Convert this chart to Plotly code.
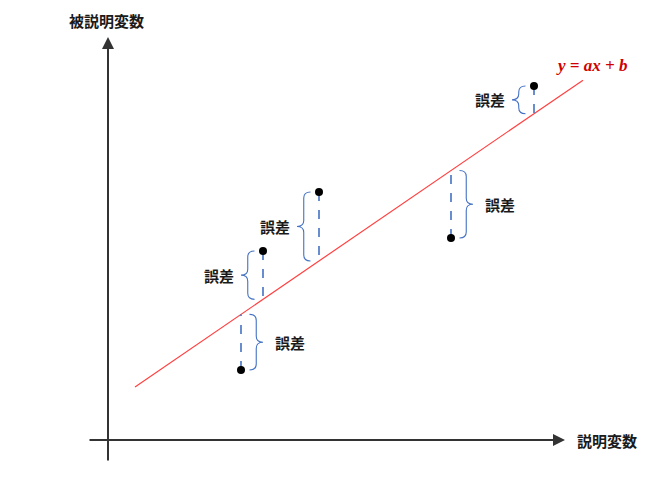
import plotly.graph_objects as go

# ---- data (diagram units) ----
point_x = [2.66, 3.10, 4.22, 6.86, 8.52]
point_y = [1.40, 3.78, 4.96, 4.04, 7.08]
brace_side = ["right", "left", "left", "right", "left"]
error_label = "誤差"
slope_a = 0.685
intercept_b = 0.69
line_x = [0.54, 9.50]
x_axis_title = "説明変数"
y_axis_title = "被説明変数"
equation_text = "y = ax + b"

fig = go.Figure()

# regression line
line_y = [slope_a * x + intercept_b for x in line_x]
fig.add_trace(go.Scatter(x=line_x, y=line_y, mode="lines",
                         line=dict(color="#FF4040", width=1.2),
                         hoverinfo="skip", showlegend=False))

shapes = []
annotations = []
OFF = 0.17
W = 0.27
R = 0.12
for px, py, side in zip(point_x, point_y, brace_side):
    ly = slope_a * px + intercept_b
    # dashed residual
    fig.add_trace(go.Scatter(x=[px, px], y=[py, ly], mode="lines",
                             line=dict(color="#4472C4", width=1.6, dash="dash"),
                             hoverinfo="skip", showlegend=False))
    top, bot = max(py, ly), min(py, ly)
    mid = (top + bot) / 2
    s = 1 if side == "right" else -1
    x0 = px + s * OFF
    xm = x0 + s * W / 2
    xt = x0 + s * W
    path = (f"M {x0},{top} Q {xm},{top} {xm},{top - R} "
            f"L {xm},{mid + R} Q {xm},{mid} {xt},{mid} "
            f"Q {xm},{mid} {xm},{mid - R} "
            f"L {xm},{bot + R} Q {xm},{bot} {x0},{bot}")
    shapes.append(dict(type="path", path=path, xref="x", yref="y",
                       line=dict(color="#4472C4", width=1.1)))
    gap = 0.2 if side == "right" else 0.1
    annotations.append(dict(x=xt + s * gap, y=mid, xref="x", yref="y",
                            text=error_label, showarrow=False,
                            xanchor="left" if side == "right" else "right",
                            yanchor="middle",
                            font=dict(family="Noto Sans CJK JP", size=15,
                                      color="#1a1a1a", weight=700)))

# points
fig.add_trace(go.Scatter(x=point_x, y=point_y, mode="markers",
                         marker=dict(color="black", size=8),
                         hoverinfo="skip", showlegend=False))

# axes with arrows
annotations.append(dict(x=0, y=8.06, ax=0, ay=-0.44, xref="x", yref="y",
                        axref="x", ayref="y", text="", showarrow=True,
                        arrowhead=2, arrowsize=1.2, arrowwidth=2,
                        arrowcolor="#333333"))
annotations.append(dict(x=9.14, y=0, ax=-0.40, ay=0, xref="x", yref="y",
                        axref="x", ayref="y", text="", showarrow=True,
                        arrowhead=2, arrowsize=1.2, arrowwidth=2,
                        arrowcolor="#333333"))
annotations.append(dict(x=-0.04, y=8.40, xref="x", yref="y",
                        text=y_axis_title, showarrow=False,
                        xanchor="center", yanchor="middle",
                        font=dict(family="Noto Sans CJK JP", size=15,
                                  color="#1a1a1a", weight=700)))
annotations.append(dict(x=9.34, y=0, xref="x", yref="y",
                        text=x_axis_title, showarrow=False,
                        xanchor="left", yanchor="middle",
                        font=dict(family="Noto Sans CJK JP", size=15,
                                  color="#1a1a1a", weight=700)))
annotations.append(dict(x=9.66, y=7.50, xref="x", yref="y",
                        text=f"<b><i>{equation_text}</i></b>", showarrow=False,
                        xanchor="center", yanchor="middle",
                        font=dict(family="Liberation Serif", size=17,
                                  color="#D00000")))

fig.update_layout(
    width=650, height=477,
    margin=dict(l=0, r=0, t=0, b=0),
    paper_bgcolor="white", plot_bgcolor="white",
    xaxis=dict(range=[-2.16, 10.84], visible=False, fixedrange=True),
    yaxis=dict(range=[-0.74, 8.80], visible=False, fixedrange=True),
    shapes=shapes, annotations=annotations,
    showlegend=False,
)

fig.write_html("out.html", config={"displayModeBar": False},
               post_script="document.body.style.margin='0';")
